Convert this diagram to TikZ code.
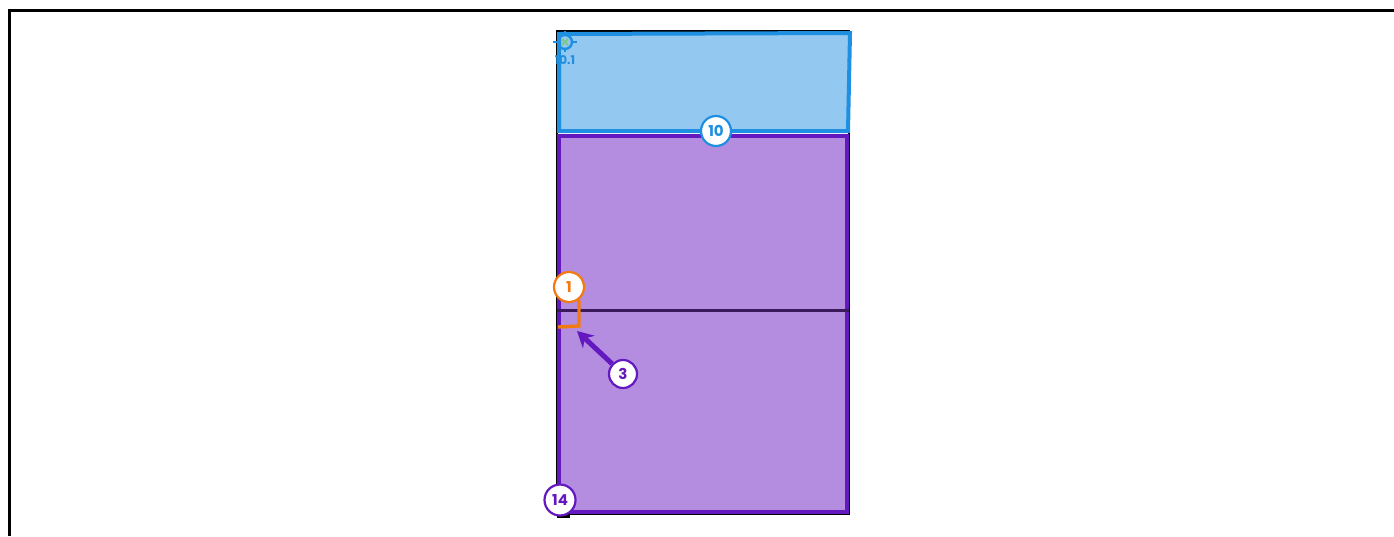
\documentclass[tikz,border=0pt]{standalone}
\usepackage{fontspec}
\setsansfont{Poppins}
\usetikzlibrary{positioning,arrows.meta,calc}

\definecolor{skyline}{HTML}{1E8FE1}
\definecolor{skyfill}{HTML}{93C8F0}
\definecolor{violine}{HTML}{6418C0}
\definecolor{viofill}{HTML}{B48CE0}
\definecolor{seam}{HTML}{3A1A5A}
\definecolor{tang}{HTML}{F27A0E}
\definecolor{mint}{HTML}{7CC98A}

\begin{document}
\begin{tikzpicture}[x=1pt, y=-1pt, >=Stealth,
  badge/.style={circle, draw, fill=white, line width=2.2pt, minimum size=30pt,
                inner sep=0pt, font=\sffamily\bfseries\fontsize{15}{15}\selectfont},
  tag/.style={font=\sffamily\bfseries\fontsize{12}{12}\selectfont, inner sep=0pt}]
  \useasboundingbox (0,0) rectangle (1394,536);
  % outer frame, only top and left show
  \draw[line width=3pt] (1394,10.5) -- (9,10.5) -- (9,536);
  % dark outline under the panels
  \draw[line width=2pt] (557,31) rectangle (849,514);
  % lower panel
  \node[draw=violine, fill=viofill, line width=4pt, minimum width=288pt,
        minimum height=376pt, inner sep=0pt] (wall) at (703,324) {};
  \draw[seam, line width=3pt] (wall.west |- 0,310) -- (wall.east |- 0,310);
  % upper panel
  \draw[draw=skyline, fill=skyfill, line width=4pt]
    (559,34) -- (850,33) -- (848,131) -- (559,131) -- cycle;
  \coordinate (sill) at (716,131);
  % corner mark 10.1
  \node[tag, text=skyline] (pinlab) at (565,60) {10.1};
  \node[circle, draw=skyline, line width=2.4pt, minimum size=14pt, inner sep=0pt]
    (pin) at (565,42) {};
  \draw[skyline, line width=2.4pt] (pin.north) -- +(0,-3) (pin.south) -- +(0,2)
    (pin.west) -- +(-4,0) (pin.east) -- +(4,0);
  \draw[mint, line width=1.8pt] ($(pin)+(-3,-3)$) -- ($(pin)+(3,3)$)
    ($(pin)+(-3,3)$) -- ($(pin)+(3,-3)$);
  % orange bracket
  \coordinate (hook) at (579,300);
  \coordinate (knee) at (579,326);
  \draw[tang, line width=3.4pt] (hook) -- (knee) -- (558,327);
  % badges
  \node[badge, draw=skyline, text=skyline] (ten) at (sill) {10};
  \node[badge, draw=tang, text=tang] (one) at (569,287) {1};
  \node[badge, draw=violine, text=violine, minimum size=28pt] (three) at (623,374) {3};
  \fill[black] (557,510) rectangle (570,518);
  \node[badge, draw=violine, text=violine, minimum size=31pt] (fourteen) at (560,500) {14};
  % pointer
  \coordinate (tip) at (577,331);
  \draw[violine, line width=5pt, -{Stealth[length=16pt, width=17pt]}]
    (three) -- (tip);
\end{tikzpicture}
\end{document}
